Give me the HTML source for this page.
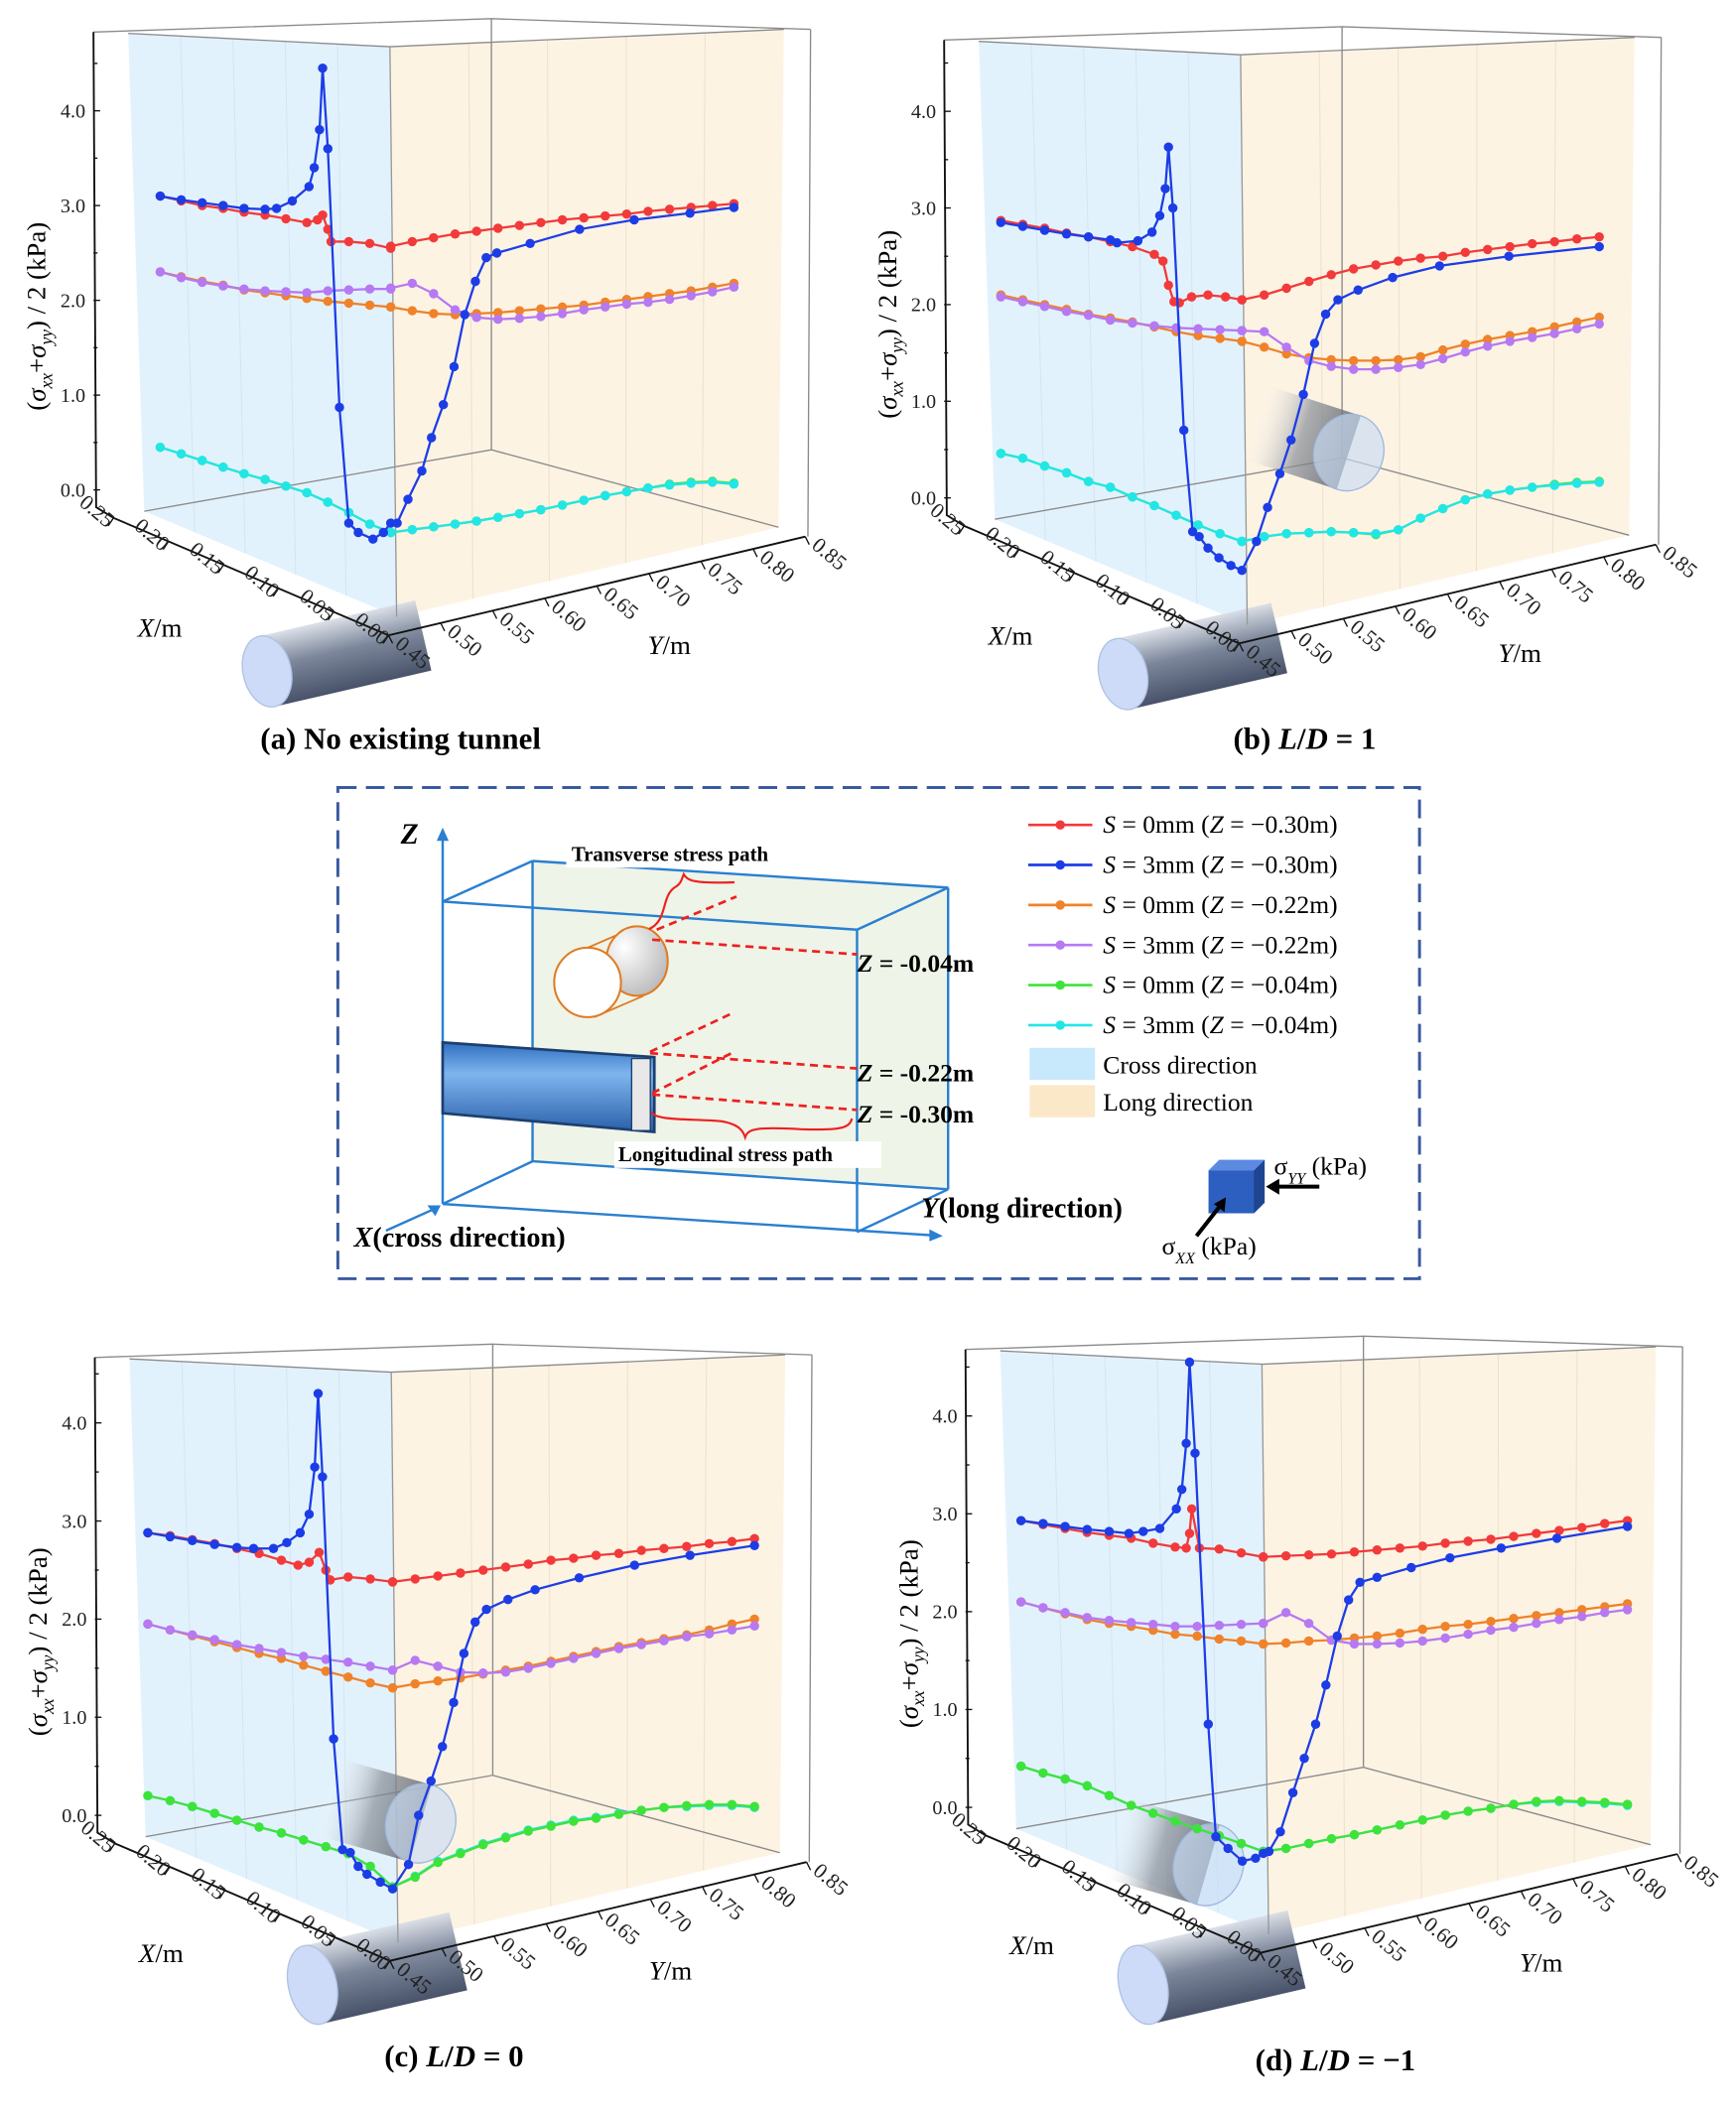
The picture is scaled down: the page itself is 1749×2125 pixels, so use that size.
<!DOCTYPE html>
<html><head><meta charset="utf-8"><title>Stress paths</title>
<style>
html,body{margin:0;padding:0;background:#fff;}
svg{display:block;font-family:"Liberation Serif",serif;}
</style></head>
<body>
<svg id="fig" xmlns="http://www.w3.org/2000/svg" width="1749" height="2125" viewBox="0 0 1300 1580" preserveAspectRatio="none">
<defs>
<linearGradient id="cylg" x1="0" y1="0" x2="0" y2="1">
<stop offset="0" stop-color="#d8dde6"/><stop offset="0.45" stop-color="#6e7a90"/><stop offset="1" stop-color="#34405a"/>
</linearGradient>
<linearGradient id="cylg2" x1="0" y1="0" x2="1" y2="0">
<stop offset="0" stop-color="#ffffff" stop-opacity="0"/><stop offset="0.5" stop-color="#8a8f98" stop-opacity="0.7"/><stop offset="1" stop-color="#60656f" stop-opacity="0.85"/>
</linearGradient>
<linearGradient id="tung" x1="0" y1="0" x2="0" y2="1">
<stop offset="0" stop-color="#2f6fc0"/><stop offset="0.35" stop-color="#7fb5ee"/><stop offset="1" stop-color="#2a60aa"/>
</linearGradient>
<radialGradient id="orcyl" cx="0.3" cy="0.3" r="0.8"><stop offset="0" stop-color="#ffffff"/><stop offset="1" stop-color="#b8b8b8"/></radialGradient>
</defs>
<g id="panels"></g>

<text x="300" y="561" text-anchor="middle" font-size="23" font-weight="bold">(a) No existing tunnel</text>
<text x="977" y="561" text-anchor="middle" font-size="23" font-weight="bold">(b) <tspan font-style="italic">L</tspan>/<tspan font-style="italic">D</tspan> = 1</text>
<text x="340" y="1548" text-anchor="middle" font-size="23" font-weight="bold">(c) <tspan font-style="italic">L</tspan>/<tspan font-style="italic">D</tspan> = 0</text>
<text x="1000" y="1551" text-anchor="middle" font-size="23" font-weight="bold">(d) <tspan font-style="italic">L</tspan>/<tspan font-style="italic">D</tspan> = −1</text>

<g>
<rect x="253" y="590" width="810" height="368" fill="none" stroke="#3a5aa0" stroke-width="2.2" stroke-dasharray="14,7"/>
<g>
<polygon points="398.8,645 710,665 710,891 398.8,870" fill="#eef4e8"/>
<g stroke="#2a7fd0" stroke-width="1.8" fill="none">
<line x1="398.8" y1="645" x2="398.8" y2="870"/>
<line x1="398.8" y1="645" x2="710" y2="665"/>
<line x1="710" y1="665" x2="710" y2="891"/>
<line x1="398.8" y1="870" x2="710" y2="891"/>
<line x1="331.5" y1="675.4" x2="641.8" y2="696.5"/>
<line x1="331.5" y1="675.4" x2="398.8" y2="645"/>
<line x1="641.8" y1="696.5" x2="710" y2="665"/>
<line x1="641.8" y1="696.5" x2="641.8" y2="923"/>
<line x1="331.5" y1="902" x2="398.8" y2="870"/>
<line x1="641.8" y1="923" x2="710" y2="891"/>
<line x1="331.5" y1="902" x2="702" y2="925.7"/>
<line x1="331.5" y1="902" x2="331.5" y2="626"/>
<line x1="289" y1="922" x2="329" y2="904"/>
</g>
<polygon points="331.5,620 327,630 336,630" fill="#2a7fd0"/>
<polygon points="706,926 696,921 696,930" fill="#2a7fd0"/>
<polygon points="330,903 320,903 326,911" fill="#2a7fd0"/>
<text x="300" y="632" font-size="22" font-weight="bold" font-style="italic">Z</text>
<rect x="424" y="630" width="188" height="20" fill="#fff"/>
<text x="428" y="645" font-size="15.5" font-weight="bold">Transverse stress path</text>
<rect x="460" y="855" width="200" height="20" fill="#fff"/>
<text x="463" y="870" font-size="15.5" font-weight="bold">Longitudinal stress path</text>
<line x1="440" y1="710" x2="477" y2="694" stroke="#e07a20" stroke-width="1.3"/>
<line x1="445" y1="762" x2="482" y2="746" stroke="#e07a20" stroke-width="1.3"/>
<ellipse cx="477" cy="720" rx="23" ry="26" fill="url(#orcyl)" stroke="#e07a20" stroke-width="1.5"/>
<ellipse cx="440" cy="736" rx="25" ry="26" fill="#fff" stroke="#e07a20" stroke-width="1.5"/>
<polygon points="331.5,781 490,792 490,848 331.5,834" fill="url(#tung)" stroke="#1d3f70" stroke-width="2"/>
<rect x="473" y="793" width="14" height="54" fill="#e8e8e8" stroke="#1d3f70" stroke-width="1"/>
<g stroke="#ee2020" stroke-width="2" stroke-dasharray="6,4" fill="none">
<line x1="488.4" y1="704" x2="641.8" y2="715"/>
<line x1="491.8" y1="696.5" x2="551.5" y2="671.7"/>
<line x1="486.8" y1="788" x2="549.8" y2="758.4"/>
<line x1="486.8" y1="789" x2="641.8" y2="800.5"/>
<line x1="488.4" y1="819" x2="549.8" y2="788"/>
<line x1="488.4" y1="820" x2="641.8" y2="831.5"/>
</g>
<path d="M486,696 C 500,690 495,672 505,665 C 510,662 510,660 512,655 C 515,660 520,662 550,661" stroke="#ee2020" stroke-width="1.6" fill="none"/>
<path d="M488,833 C 490,840 520,838 540,840 C 552,842 556,846 558,852 C 560,846 565,844 600,846 C 630,847 636,845 638,838" stroke="#ee2020" stroke-width="1.6" fill="none"/>
<text x="642" y="728" font-size="19" font-weight="bold"><tspan font-style="italic">Z</tspan> = -0.04m</text>
<text x="642" y="810" font-size="19" font-weight="bold"><tspan font-style="italic">Z</tspan> = -0.22m</text>
<text x="642" y="841" font-size="19" font-weight="bold"><tspan font-style="italic">Z</tspan> = -0.30m</text>
<text x="265" y="934" font-size="21" font-weight="bold"><tspan font-style="italic">X</tspan>(cross direction)</text>
<text x="690" y="912" font-size="21" font-weight="bold"><tspan font-style="italic">Y</tspan>(long direction)</text>
</g>
<g id="legend-entries"></g>
<rect x="771" y="785" width="49" height="24" fill="#c8e8fb"/>
<text x="826" y="804" font-size="19">Cross direction</text>
<rect x="771" y="813" width="49" height="24" fill="#fbe8c8"/>
<text x="826" y="832" font-size="19">Long direction</text>
<g>
<polygon points="905,877 913,869 947,869 947,901 939,909 905,909" fill="#2d5fc0"/>
<polygon points="905,877 913,869 947,869 939,877" fill="#5b8ae0"/>
<polygon points="939,877 947,869 947,901 939,909" fill="#1e4590"/>
<line x1="988" y1="889" x2="955" y2="889" stroke="#000" stroke-width="3"/>
<polygon points="948,889 958,883 958,895" fill="#000"/>
<line x1="896" y1="926" x2="914" y2="903" stroke="#000" stroke-width="3"/>
<polygon points="918,897 909,902 917,908" fill="#000"/>
<text x="954" y="880" font-size="19">σ<tspan font-size="12" font-style="italic" baseline-shift="sub">YY</tspan> (kPa)</text>
<text x="870" y="940" font-size="19">σ<tspan font-size="12" font-style="italic" baseline-shift="sub">XX</tspan> (kPa)</text>
</g>
</g>
</svg>

<script>
const X_GRID = [0.22,0.20,0.18,0.16,0.14,0.12,0.10,0.08,0.06,0.04,0.02,0.00];
const Y_GRID = [0.45,0.47,0.49,0.51,0.53,0.55,0.57,0.59,0.61,0.63,0.65,0.67,0.69,0.71,0.73,0.75,0.77];
const Z_TICKS = [0,1,2,3,4];
const Z_TICK_LABELS = ["0.0","1.0","2.0","3.0","4.0"];
const X_TICKS = [0.25,0.20,0.15,0.10,0.05,0.00];
const X_TICK_LABELS = ["0.25","0.20","0.15","0.10","0.05","0.00"];
const Y_TICKS = [0.45,0.50,0.55,0.60,0.65,0.70,0.75,0.80,0.85];
const Y_TICK_LABELS = ["0.45","0.50","0.55","0.60","0.65","0.70","0.75","0.80","0.85"];

const LEGEND_LABELS = ["0mm","3mm","0mm","3mm","0mm","3mm"];
const LEGEND_Z = ["−0.30m","−0.30m","−0.22m","−0.22m","−0.04m","−0.04m"];

const a_red_X  = [0.22,0.20,0.18,0.16,0.14,0.12,0.10,0.08,0.07,0.065,0.06,0.057,0.04,0.02,0];
const a_red_Xv = [3.10,3.05,3.00,2.97,2.93,2.90,2.86,2.82,2.85,2.90,2.75,2.62,2.62,2.60,2.55];
const a_red_Yv = [2.57,2.62,2.66,2.70,2.73,2.76,2.79,2.82,2.85,2.87,2.89,2.91,2.94,2.96,2.98,3.00,3.02];
const a_blue_X  = [0.22,0.20,0.18,0.16,0.14,0.12,0.109,0.094,0.078,0.073,0.068,0.065,0.060,0.049,0.040,0.031,0.017,0.007,0];
const a_blue_Xv = [3.10,3.06,3.03,3.00,2.97,2.96,2.97,3.05,3.20,3.40,3.80,4.45,3.60,0.87,-0.35,-0.45,-0.52,-0.45,-0.35];
const a_blue_Y  = [0.456,0.466,0.479,0.488,0.499,0.509,0.519,0.529,0.539,0.549,0.580,0.626,0.677,0.729,0.77];
const a_blue_Yv = [-0.35,-0.10,0.20,0.55,0.90,1.30,1.85,2.20,2.45,2.50,2.60,2.75,2.85,2.92,2.98];
const a_orange_Xv = [2.30,2.25,2.20,2.16,2.11,2.08,2.05,2.02,1.99,1.97,1.95,1.93];
const a_orange_Yv = [1.93,1.89,1.86,1.85,1.86,1.87,1.89,1.91,1.93,1.95,1.98,2.01,2.04,2.07,2.10,2.14,2.18];
const a_purple_Xv = [2.30,2.24,2.19,2.15,2.12,2.10,2.09,2.08,2.10,2.11,2.12,2.12];
const a_purple_Yv = [2.13,2.18,2.07,1.90,1.82,1.80,1.81,1.83,1.86,1.90,1.93,1.96,1.98,2.01,2.05,2.09,2.14];
const a_green_Xv = [0.45,0.38,0.31,0.24,0.17,0.11,0.04,-0.03,-0.13,-0.24,-0.36,-0.45];
const a_green_Yv = [-0.45,-0.42,-0.39,-0.36,-0.33,-0.29,-0.25,-0.21,-0.16,-0.11,-0.06,-0.02,0.02,0.06,0.08,0.09,0.07];
const a_cyan_Xv = [0.45,0.38,0.31,0.24,0.17,0.11,0.04,-0.03,-0.13,-0.24,-0.36,-0.45];
const a_cyan_Yv = [-0.45,-0.42,-0.39,-0.36,-0.33,-0.29,-0.25,-0.21,-0.16,-0.11,-0.06,-0.02,0.02,0.05,0.07,0.08,0.06];

const b_red_X  = [0.22,0.20,0.18,0.16,0.14,0.12,0.10,0.08,0.072,0.067,0.062,0.057,0.046,0.031,0.015,0];
const b_red_Xv = [2.87,2.83,2.79,2.74,2.70,2.65,2.60,2.52,2.45,2.20,2.03,2.02,2.08,2.10,2.08,2.05];
const b_red_Yv = [2.05,2.10,2.17,2.24,2.31,2.37,2.41,2.45,2.48,2.50,2.54,2.57,2.60,2.63,2.65,2.68,2.70];
const b_blue_X  = [0.22,0.20,0.18,0.16,0.14,0.12,0.114,0.095,0.082,0.075,0.070,0.067,0.063,0.053,0.045,0.039,0.031,0.021,0.010,0];
const b_blue_Xv = [2.85,2.81,2.77,2.73,2.70,2.67,2.64,2.66,2.75,2.92,3.20,3.63,3.00,0.70,-0.35,-0.40,-0.52,-0.62,-0.70,-0.75];
const b_blue_Y  = [0.463,0.473,0.484,0.494,0.505,0.515,0.525,0.536,0.554,0.585,0.627,0.689,0.77];
const b_blue_Yv = [-0.45,-0.10,0.25,0.60,1.07,1.60,1.90,2.05,2.15,2.28,2.40,2.50,2.60];
const b_orange_Xv = [2.10,2.05,2.00,1.95,1.90,1.86,1.82,1.77,1.72,1.68,1.65,1.62];
const b_orange_Yv = [1.62,1.56,1.49,1.45,1.43,1.42,1.42,1.43,1.46,1.53,1.59,1.64,1.68,1.72,1.77,1.82,1.87];
const b_purple_Xv = [2.08,2.03,1.98,1.93,1.89,1.84,1.81,1.78,1.76,1.75,1.74,1.73];
const b_purple_Yv = [1.73,1.72,1.56,1.42,1.36,1.33,1.33,1.35,1.38,1.44,1.51,1.57,1.62,1.66,1.70,1.75,1.80];
const b_green_Xv = [0.46,0.41,0.33,0.26,0.17,0.11,0.01,-0.08,-0.18,-0.28,-0.37,-0.45];
const b_green_Yv = [-0.45,-0.40,-0.37,-0.36,-0.35,-0.36,-0.38,-0.33,-0.21,-0.11,-0.02,0.04,0.08,0.11,0.14,0.16,0.17];
const b_cyan_Xv = [0.46,0.41,0.33,0.26,0.17,0.11,0.01,-0.08,-0.18,-0.28,-0.37,-0.45];
const b_cyan_Yv = [-0.45,-0.40,-0.37,-0.36,-0.35,-0.36,-0.37,-0.33,-0.21,-0.11,-0.02,0.04,0.08,0.11,0.13,0.15,0.16];

const c_red_X  = [0.22,0.20,0.18,0.16,0.14,0.12,0.10,0.085,0.075,0.066,0.060,0.056,0.04,0.02,0];
const c_red_Xv = [2.88,2.85,2.81,2.77,2.72,2.67,2.60,2.55,2.58,2.68,2.50,2.40,2.43,2.41,2.38];
const c_red_Yv = [2.38,2.41,2.44,2.47,2.50,2.53,2.56,2.60,2.62,2.65,2.67,2.70,2.72,2.74,2.77,2.79,2.82];
const c_blue_X  = [0.22,0.20,0.18,0.16,0.14,0.125,0.107,0.095,0.083,0.075,0.070,0.067,0.063,0.053,0.045,0.038,0.031,0.023,0.011,0];
const c_blue_Xv = [2.88,2.84,2.80,2.76,2.73,2.72,2.72,2.78,2.88,3.07,3.55,4.30,3.45,0.78,-0.35,-0.38,-0.52,-0.60,-0.68,-0.75];
const c_blue_Y  = [0.464,0.473,0.484,0.494,0.504,0.513,0.523,0.533,0.552,0.576,0.615,0.664,0.713,0.77];
const c_blue_Yv = [-0.50,0.00,0.35,0.70,1.15,1.65,1.97,2.10,2.20,2.30,2.42,2.55,2.65,2.75];
const c_orange_Xv = [1.95,1.89,1.83,1.77,1.71,1.65,1.60,1.53,1.47,1.41,1.35,1.30];
const c_orange_Yv = [1.30,1.34,1.37,1.40,1.44,1.48,1.52,1.57,1.62,1.67,1.72,1.76,1.80,1.84,1.89,1.95,2.00];
const c_purple_Xv = [1.95,1.89,1.84,1.79,1.74,1.70,1.66,1.62,1.59,1.56,1.52,1.48];
const c_purple_Yv = [1.48,1.58,1.52,1.46,1.45,1.46,1.50,1.55,1.60,1.65,1.70,1.74,1.78,1.82,1.85,1.89,1.93];
const c_cyan_Xv = [0.20,0.15,0.09,0.02,-0.05,-0.12,-0.18,-0.25,-0.32,-0.39,-0.52,-0.73];
const c_cyan_Yv = [-0.73,-0.62,-0.47,-0.38,-0.29,-0.22,-0.15,-0.10,-0.05,-0.02,0.02,0.05,0.08,0.09,0.10,0.10,0.08];
const c_green_Xv = [0.20,0.15,0.09,0.02,-0.05,-0.12,-0.18,-0.25,-0.32,-0.39,-0.52,-0.73];
const c_green_Yv = [-0.73,-0.63,-0.48,-0.39,-0.30,-0.23,-0.16,-0.11,-0.06,-0.03,0.01,0.05,0.08,0.10,0.11,0.11,0.09];

const d_red_X  = [0.22,0.20,0.18,0.16,0.14,0.12,0.10,0.08,0.07,0.067,0.065,0.058,0.04,0.02,0];
const d_red_Xv = [2.93,2.89,2.85,2.81,2.78,2.75,2.70,2.66,2.65,2.80,3.05,2.65,2.64,2.60,2.56];
const d_red_Yv = [2.56,2.57,2.58,2.59,2.61,2.63,2.65,2.67,2.70,2.72,2.74,2.77,2.80,2.83,2.86,2.90,2.93];
const d_blue_X  = [0.22,0.20,0.18,0.16,0.14,0.122,0.109,0.094,0.079,0.074,0.070,0.067,0.062,0.050,0.043,0.032,0.019,0.007,0];
const d_blue_Xv = [2.93,2.90,2.87,2.84,2.82,2.80,2.82,2.85,3.05,3.25,3.72,4.55,3.62,0.85,-0.30,-0.42,-0.55,-0.52,-0.47];
const d_blue_Y  = [0.455,0.465,0.476,0.486,0.496,0.505,0.515,0.525,0.535,0.550,0.580,0.614,0.659,0.708,0.77];
const d_blue_Yv = [-0.45,-0.25,0.15,0.50,0.85,1.25,1.75,2.12,2.30,2.35,2.45,2.55,2.65,2.75,2.87];
const d_orange_Xv = [2.10,2.04,1.98,1.92,1.88,1.85,1.81,1.77,1.75,1.72,1.70,1.67];
const d_orange_Yv = [1.67,1.68,1.70,1.71,1.73,1.75,1.78,1.82,1.85,1.87,1.90,1.93,1.96,1.99,2.02,2.05,2.08];
const d_purple_Xv = [2.10,2.04,1.99,1.94,1.91,1.89,1.87,1.85,1.85,1.86,1.87,1.88];
const d_purple_Yv = [1.88,1.99,1.88,1.71,1.67,1.67,1.68,1.70,1.73,1.77,1.81,1.84,1.88,1.92,1.95,1.99,2.02];
const d_cyan_Xv = [0.42,0.35,0.29,0.22,0.12,0.02,-0.06,-0.14,-0.22,-0.29,-0.37,-0.45];
const d_cyan_Yv = [-0.45,-0.42,-0.37,-0.32,-0.28,-0.23,-0.18,-0.13,-0.08,-0.04,-0.01,0.03,0.05,0.06,0.05,0.04,0.02];
const d_green_Xv = [0.42,0.35,0.29,0.22,0.12,0.02,-0.06,-0.14,-0.22,-0.29,-0.37,-0.45];
const d_green_Yv = [-0.45,-0.42,-0.37,-0.32,-0.28,-0.23,-0.18,-0.13,-0.08,-0.04,-0.01,0.03,0.06,0.07,0.06,0.05,0.03];

const COLORS = {red:"#f23a3a",blue:"#1c3de6",orange:"#f0822a",purple:"#b679f2",green:"#3ee33a",cyan:"#22e6e6"};

const PANELS = [
 {id:"a",dx:0,dy:0,start:120,corner:292.6,end:549.6,z0:367,k:71,greenTop:false,mid:null,
  bottom:[200,503,120,-13,18,27]},
 {id:"b",dx:637,dy:6,start:749.5,corner:930,end:1197.6,z0:373,k:72.4,greenTop:false,mid:[1010,339,75,18,26,29],
  bottom:[841,505,120,-13,18,27]},
 {id:"c",dx:1,dy:993,start:110.7,corner:294,end:565,z0:1360,k:73.5,greenTop:true,mid:[315,1366,75,16,26,30],
  bottom:[234,1487,112,-13,18,30]},
 {id:"d",dx:653,dy:987,start:764.6,corner:946,end:1218.7,z0:1354,k:73.3,greenTop:true,mid:[905,1397,75,16,26,31],
  bottom:[856,1487,118,-13,18,30]}
];

const SERIES = {
 a:{red:[a_red_X,a_red_Xv,Y_GRID,a_red_Yv],blue:[a_blue_X,a_blue_Xv,a_blue_Y,a_blue_Yv],orange:[X_GRID,a_orange_Xv,Y_GRID,a_orange_Yv],purple:[X_GRID,a_purple_Xv,Y_GRID,a_purple_Yv],green:[X_GRID,a_green_Xv,Y_GRID,a_green_Yv],cyan:[X_GRID,a_cyan_Xv,Y_GRID,a_cyan_Yv]},
 b:{red:[b_red_X,b_red_Xv,Y_GRID,b_red_Yv],blue:[b_blue_X,b_blue_Xv,b_blue_Y,b_blue_Yv],orange:[X_GRID,b_orange_Xv,Y_GRID,b_orange_Yv],purple:[X_GRID,b_purple_Xv,Y_GRID,b_purple_Yv],green:[X_GRID,b_green_Xv,Y_GRID,b_green_Yv],cyan:[X_GRID,b_cyan_Xv,Y_GRID,b_cyan_Yv]},
 c:{red:[c_red_X,c_red_Xv,Y_GRID,c_red_Yv],blue:[c_blue_X,c_blue_Xv,c_blue_Y,c_blue_Yv],orange:[X_GRID,c_orange_Xv,Y_GRID,c_orange_Yv],purple:[X_GRID,c_purple_Xv,Y_GRID,c_purple_Yv],green:[X_GRID,c_green_Xv,Y_GRID,c_green_Yv],cyan:[X_GRID,c_cyan_Xv,Y_GRID,c_cyan_Yv]},
 d:{red:[d_red_X,d_red_Xv,Y_GRID,d_red_Yv],blue:[d_blue_X,d_blue_Xv,d_blue_Y,d_blue_Yv],orange:[X_GRID,d_orange_Xv,Y_GRID,d_orange_Yv],purple:[X_GRID,d_purple_Xv,Y_GRID,d_purple_Yv],green:[X_GRID,d_green_Xv,Y_GRID,d_green_Yv],cyan:[X_GRID,d_cyan_Xv,Y_GRID,d_cyan_Yv]}
};

const NS = "http://www.w3.org/2000/svg";
function mk(tag, attrs, parent){
  const e = document.createElementNS(NS, tag);
  for (const k in attrs) e.setAttribute(k, attrs[k]);
  if (parent) parent.appendChild(e);
  return e;
}
function xLegScale(P, x){ return P.corner - (x/0.22)*(P.corner - P.start); }
function yLegScale(P, y){ return P.corner + ((y-0.45)/0.32)*(P.end - P.corner); }
function zScale(P, v){ return P.z0 - P.k*v; }
const FL = [85,388], FC = [291,476], FR = [603,402];

function cylinder(g, spec, name, translucent){
  const [cx,cy,len,ang,rx,ry] = spec;
  const cg = mk("g",{transform:`translate(${cx},${cy}) rotate(${ang})`},g);
  
  
  if (translucent){
    mk("rect",{x:-len,y:-ry,width:len,height:2*ry,fill:"url(#cylg2)"},cg);
    mk("ellipse",{cx:0,cy:0,rx:rx,ry:ry,fill:"#c9dcf5","fill-opacity":0.65,stroke:"#9fb8dc","stroke-width":1},cg);
  } else {
    cg.setAttribute("opacity","0.9");
    mk("rect",{x:0,y:-ry,width:len,height:2*ry,fill:"url(#cylg)"},cg);
    mk("ellipse",{cx:0,cy:0,rx:rx,ry:ry,fill:"#c8d8f8",stroke:"#a8bce0","stroke-width":1},cg);
  }
}

const root = document.getElementById("panels");
PANELS.forEach(P => {
  const pg = mk("g",{},root);
  
  
  const bg = mk("g",{transform:`translate(${P.dx},${P.dy})`},pg);
  
  
  const wb = mk("polygon",{points:"96,25 292,35 297,462 108,383",fill:"#e2f2fd"},bg);
  
  
  const wt = mk("polygon",{points:"292,35 587,22 583,395 297,462",fill:"#fdf3e3"},bg);
  
  
  for (let i=1;i<5;i++){
    const t=i/5;
    mk("line",{x1:96+(292-96)*t,y1:25+10*t,x2:108+(297-108)*t,y2:383+79*t,stroke:"#d4e6f2","stroke-width":0.8},bg);
    mk("line",{x1:292+(587-292)*t,y1:35-13*t,x2:297+(583-297)*t,y2:462-67*t,stroke:"#eee2cc","stroke-width":0.8},bg);
  }
  // bottom tunnel drawn under axes and labels
  cylinder(bg, [P.bottom[0]-P.dx, P.bottom[1]-P.dy].concat(P.bottom.slice(2)), "tunnel-bottom", false);
  const gl = "#8a8a8a";
  mk("path",{d:"M70,24 L368,14 L607,22 M368,14 L368,337 M108,383 L368,337 L583,395 M607,22 L605,402 M96,25 L292,35 L587,22",stroke:gl,"stroke-width":1,fill:"none"},bg);
  mk("line",{x1:292,y1:35,x2:297,y2:462,stroke:"#999","stroke-width":1},bg);
  const ax = mk("path",{d:`M70,24 L72,380 L${FL[0]},${FL[1]} L${FC[0]},${FC[1]} L${FR[0]},${FR[1]}`,stroke:"#111","stroke-width":1.4,fill:"none"},bg);
  
  
  X_TICKS.forEach((t,i)=>{
    const f = (0.25-t)/0.25;
    const x = FL[0]+(FC[0]-FL[0])*f, y = FL[1]+(FC[1]-FL[1])*f;
    mk("line",{x1:x,y1:y,x2:x-4,y2:y+6,stroke:"#111","stroke-width":1},bg);
    const tx = mk("text",{x:x-5,y:y+8,"font-size":16,"text-anchor":"end",transform:`rotate(40 ${x-5} ${y+8})`,fill:"#222"},bg);
    tx.textContent = X_TICK_LABELS[i];
    
    
  });
  Y_TICKS.forEach((t,i)=>{
    const f = (t-0.45)/0.40;
    const x = FC[0]+(FR[0]-FC[0])*f, y = FC[1]+(FR[1]-FC[1])*f;
    mk("line",{x1:x,y1:y,x2:x+3,y2:y+6,stroke:"#111","stroke-width":1},bg);
    const tx = mk("text",{x:x+4,y:y+8,"font-size":16,"text-anchor":"start",transform:`rotate(40 ${x+4} ${y+8})`,fill:"#222"},bg);
    tx.textContent = Y_TICK_LABELS[i];
    
    
  });
  const xl = mk("text",{x:103,y:477,"font-size":20},bg);
  xl.innerHTML = '<tspan font-style="italic">X</tspan>/m';
  
  
  const yl = mk("text",{x:485,y:490,"font-size":20},bg);
  yl.innerHTML = '<tspan font-style="italic">Y</tspan>/m';
  
  
  const zt = mk("text",{transform:"translate(34,237) rotate(-90)","text-anchor":"middle","font-size":20},bg);
  zt.innerHTML = '(<tspan font-style="italic">σ</tspan><tspan font-style="italic" font-size="13" dy="5">xx</tspan><tspan dy="-5">+</tspan><tspan font-style="italic">σ</tspan><tspan font-style="italic" font-size="13" dy="5">yy</tspan><tspan dy="-5">) / 2 (kPa)</tspan>';
  
  
  Z_TICKS.forEach((t,i)=>{
    const y = zScale(P,t);
    const x0 = 70+P.dx;
    mk("line",{x1:x0,y1:y,x2:x0+5,y2:y,stroke:"#111","stroke-width":1},pg);
    mk("line",{x1:x0,y1:y-P.k/2,x2:x0+3,y2:y-P.k/2,stroke:"#111","stroke-width":1},pg);
    const tx = mk("text",{x:x0-6,y:y+5,"font-size":15,"text-anchor":"end",fill:"#222"},pg);
    tx.textContent = Z_TICK_LABELS[i];
    
    
  });
  if (P.mid) cylinder(pg, P.mid, "tunnel-existing", true);
  const order = P.greenTop ? ["cyan","green","orange","purple","red","blue"] : ["green","cyan","orange","purple","red","blue"];
  order.forEach(s=>{
    const [X,Xv,Y,Yv] = SERIES[P.id][s];
    const pts = [];
    X.forEach((x,i)=>pts.push([xLegScale(P,x), zScale(P,Xv[i])]));
    Y.forEach((y,i)=>pts.push([yLegScale(P,y), zScale(P,Yv[i])]));
    const sg = mk("g",{},pg);
    
    
    const pl = mk("polyline",{points:pts.map(p=>p[0].toFixed(1)+","+p[1].toFixed(1)).join(" "),fill:"none",stroke:COLORS[s],"stroke-width":1.7},sg);
    
    
    pts.forEach(p=>{
      const c = mk("circle",{cx:p[0].toFixed(1),cy:p[1].toFixed(1),r:3.5,fill:COLORS[s]},sg);
      
      
    });
  });
});

const le = document.getElementById("legend-entries");
const LEG_COLORS = ["red","blue","orange","purple","green","cyan"];
LEG_COLORS.forEach((c,i)=>{
  const y = 618 + i*30;
  const g = mk("g",{},le);
  
  
  mk("line",{x1:770,y1:y,x2:818,y2:y,stroke:COLORS[c],"stroke-width":2},g);
  mk("circle",{cx:794,cy:y,r:3.5,fill:COLORS[c]},g);
  const t = mk("text",{x:826,y:y+6,"font-size":19},g);
  t.innerHTML = '<tspan font-style="italic">S</tspan> = ' + LEGEND_LABELS[i] + '  (<tspan font-style="italic">Z</tspan> = ' + LEGEND_Z[i] + ')';
});
</script>
</body></html>
